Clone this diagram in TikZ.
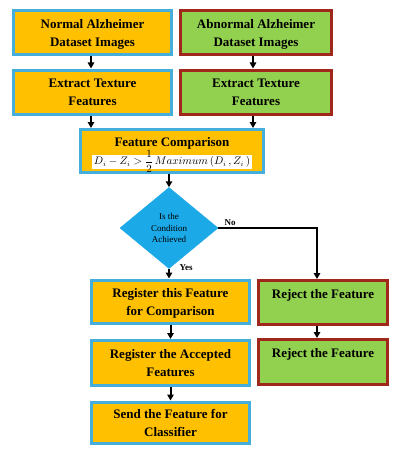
\documentclass[tikz,border=0pt]{standalone}
\usepackage{amsmath}
\usepackage{fontspec}
\setmainfont{Liberation Serif}
\usetikzlibrary{shapes.geometric,arrows.meta,calc}
\definecolor{boxorange}{HTML}{FFC000}
\definecolor{boxcyan}{HTML}{45AEDB}
\definecolor{boxgreen}{HTML}{92D050}
\definecolor{boxred}{HTML}{A0271C}
\definecolor{diablue}{HTML}{1BA9E8}
\begin{document}
\begin{tikzpicture}[x=1pt,y=-1pt,
  base/.style={rectangle,line width=3pt,align=center,inner sep=0pt,text depth=-2pt,
    font=\fontsize{13}{18}\selectfont\bfseries},
  okbox/.style={base,fill=boxorange,draw=boxcyan},
  badbox/.style={base,fill=boxgreen,draw=boxred},
  decision/.style={diamond,fill=diablue,draw=diablue,line width=0.5pt,inner sep=0pt,
    align=center,text depth=-5pt,font=\fontsize{9}{11.3}\selectfont},
  flow/.style={line width=2pt,-{Triangle[length=6pt,width=6.5pt]}},
  lab/.style={font=\fontsize{9}{10}\selectfont\bfseries,inner sep=0pt}]
\useasboundingbox (0,0) rectangle (400,460);
\fill[white] (0,0) rectangle (400,460);

\node[okbox,minimum width=158pt,minimum height=44pt] (n1) at (92.5,33) {Normal Alzheimer\\Dataset Images};
\node[badbox,minimum width=151pt,minimum height=44pt] (a1) at (256,33) {Abnormal Alzheimer\\Dataset Images};
\node[okbox,minimum width=158pt,minimum height=44pt] (n2) at (92.5,92) {Extract Texture\\Features};
\node[badbox,minimum width=151pt,minimum height=44pt] (a2) at (256,92) {Extract Texture\\Features};
\node[okbox,minimum width=183pt,minimum height=43pt,text depth=0pt] (cmp) at (172,151)
  {Feature Comparison\\[0.5pt]\smash{\setlength{\fboxsep}{2pt}\colorbox{white}{\normalfont\fontsize{10.5}{12}\selectfont$D_i - Z_i > \smash{\dfrac{1}{2}}\,Maximum\,(D_i\,, Z_i\,)$}}};
\node[decision,minimum width=98pt,minimum height=81pt] (dia) at (169,228) {Is the\\Condition\\Achieved};
\node[okbox,minimum width=158pt,minimum height=43pt] (reg) at (170.5,301.5) {Register this Feature\\for Comparison};
\node[badbox,minimum width=129pt,minimum height=44pt] (rj1) at (323,302.5) {Reject the Feature\\\mbox{}};
\node[okbox,minimum width=158pt,minimum height=45pt] (acc) at (170.5,363) {Register the Accepted\\Features};
\node[badbox,minimum width=129pt,minimum height=45pt] (rj2) at (323,362) {Reject the Feature\\\mbox{}};
\node[okbox,minimum width=158pt,minimum height=41pt] (snd) at (170.5,422.5) {Send the Feature for\\Classifier};

\coordinate (rj1n) at ($(rj1.north)+(-6,0)$);
\coordinate (rj1s) at ($(rj1.south)+(-6,0)$);

\draw[flow] ([xshift=-1.5pt]n1.south) -- ([xshift=-1.5pt]n2.north);
\draw[flow] ([xshift=-3pt]a1.south) -- ([xshift=-3pt]a2.north);
\draw[flow] ([xshift=-1.5pt]n2.south) -- ([xshift=-1.5pt]n2.south |- cmp.north);
\draw[flow] ([xshift=-3pt]a2.south) -- ([xshift=-3pt]a2.south |- cmp.north);
\draw[flow] (dia.north |- cmp.south) -- (dia.north);
\draw[flow] (dia.south) -- (dia.south |- reg.north);
\draw[flow] (dia.east) -| (rj1n);
\draw[flow] (rj1s) -- (rj1s |- rj2.north);
\draw[flow] (reg.south) -- (acc.north);
\draw[flow] (acc.south) -- (snd.north);

\node[lab] (no) at (230,223) {No};
\node[lab] (yes) at (186,268) {Yes};
\end{tikzpicture}
\end{document}
